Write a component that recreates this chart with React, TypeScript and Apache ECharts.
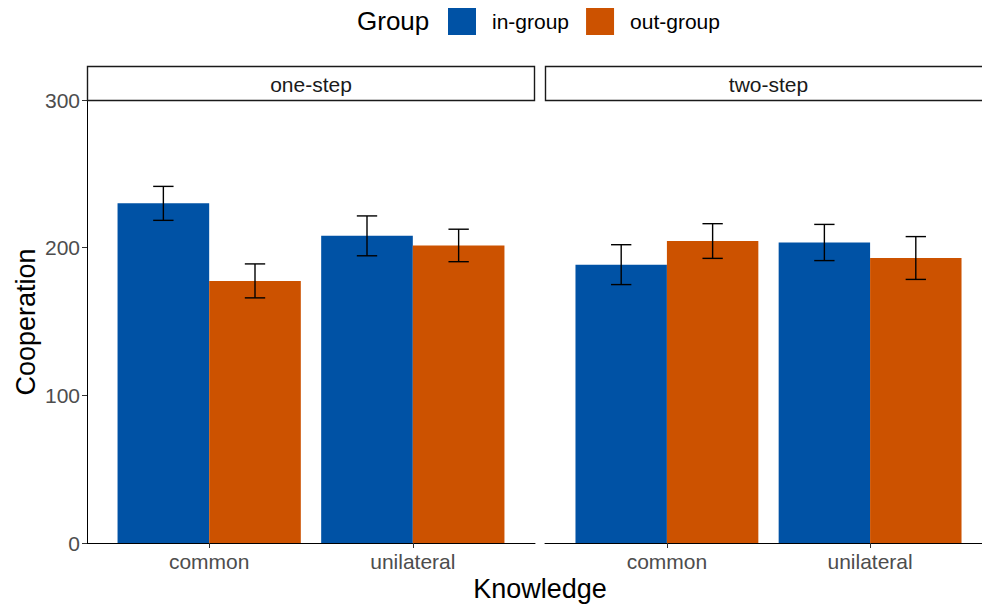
import React, { useEffect, useRef } from "react";
import * as echarts from "echarts";

const knowledge = ["common", "unilateral"];
const steps = ["one-step", "two-step"];
const groups = ["in-group", "out-group"];
const groupColors = ["#0052A5", "#CC5200"];

// means per knowledge level
const oneStepIn = [230, 208];
const oneStepOut = [177.5, 201.5];
const twoStepIn = [188.5, 203.5];
const twoStepOut = [204.5, 193];
// error bar half-widths
const oneStepInErr = [11.5, 13.5];
const oneStepOutErr = [11.5, 11];
const twoStepInErr = [13.5, 12.25];
const twoStepOutErr = [11.75, 14.5];

const yTicks = [0, 100, 200, 300];

const FONT = "Liberation Sans, Arial, sans-serif";

export default function App() {
  const ref = useRef<HTMLDivElement>(null);

  useEffect(() => {
    if (!ref.current) return;
    const chart = echarts.init(ref.current, null, { renderer: "svg" });

    const barHalf = 0.225;
    const capHalf = 0.05;

    const makeSeries = (
      name: string,
      gi: number,
      panel: number,
      means: number[],
      errs: number[]
    ) => ({
      type: "custom",
      name,
      xAxisIndex: panel,
      yAxisIndex: panel,
      itemStyle: { color: groupColors[gi] },
      encode: { x: 0, y: 1 },
      data: means.map((m, i) => [i + 1, m, m - errs[i], m + errs[i]]),
      renderItem: (params: any, api: any) => {
        const off = gi === 0 ? -barHalf : barHalf;
        const xc = api.value(0) + off;
        const mean = api.value(1);
        const lo = api.value(2);
        const hi = api.value(3);
        const tl = api.coord([xc - barHalf, mean]);
        const br = api.coord([xc + barHalf, 0]);
        const pLo = api.coord([xc, lo]);
        const pHi = api.coord([xc, hi]);
        const cl = api.coord([xc - capHalf, hi]);
        const cr = api.coord([xc + capHalf, hi]);
        const dl = api.coord([xc - capHalf, lo]);
        const dr = api.coord([xc + capHalf, lo]);
        const ls = { stroke: "#000", lineWidth: 1.4 };
        return {
          type: "group",
          children: [
            {
              type: "rect",
              shape: { x: tl[0], y: tl[1], width: br[0] - tl[0], height: br[1] - tl[1] },
              style: { fill: groupColors[gi] },
            },
            { type: "line", shape: { x1: pLo[0], y1: pLo[1], x2: pHi[0], y2: pHi[1] }, style: ls },
            { type: "line", shape: { x1: cl[0], y1: cl[1], x2: cr[0], y2: cr[1] }, style: ls },
            { type: "line", shape: { x1: dl[0], y1: dl[1], x2: dr[0], y2: dr[1] }, style: ls },
          ],
        };
      },
    });

    const xAxisBase = (gridIndex: number) => ({
      type: "value",
      gridIndex,
      min: 0.4,
      max: 2.6,
      splitLine: { show: false },
      axisLine: { show: true, lineStyle: { color: "#000", width: 1 } },
      axisTick: {
        show: true,
        length: 5,
        lineStyle: { color: "#333" },
        customValues: [1, 2],
      },
      axisLabel: {
        customValues: [1, 2],
        formatter: (v: number) => knowledge[Math.round(v) - 1] ?? "",
        color: "#4D4D4D",
        fontSize: 21,
        fontFamily: FONT,
        margin: 8,
      },
    });

    const stripTop = 66;
    const stripH = 34;
    const panels = [
      { left: 87, width: 448 },
      { left: 545, width: 447 },
    ];

    const option: any = {
      animation: false,
      backgroundColor: "#fff",
      textStyle: { fontFamily: FONT },
      legend: {
        data: groups.map((g) => ({ name: g, icon: "rect" })),
        left: 448,
        top: 8,
        padding: 0,
        itemWidth: 28,
        itemHeight: 27,
        itemGap: 17,
        selectedMode: false,
        textStyle: {
          fontSize: 21,
          color: "#000",
          fontFamily: FONT,
          padding: [0, 0, 0, 11],
        },
      },
      grid: panels.map((p) => ({
        left: p.left,
        top: 100,
        width: p.width,
        height: 443,
        outerBoundsMode: "none",
        containLabel: false,
      })),
      xAxis: [xAxisBase(0), xAxisBase(1)],
      yAxis: [0, 1].map((gi) => ({
        type: "value",
        gridIndex: gi,
        min: yTicks[0],
        max: yTicks[yTicks.length - 1],
        interval: 100,
        show: gi === 0,
        splitLine: { show: false },
        axisLine: { show: true, lineStyle: { color: "#000", width: 1 } },
        axisTick: { show: true, length: 5, lineStyle: { color: "#333" } },
        axisLabel: {
          color: "#4D4D4D",
          fontSize: 21,
          fontFamily: FONT,
          margin: 7,
        },
      })),
      series: [
        makeSeries(groups[0], 0, 0, oneStepIn, oneStepInErr),
        makeSeries(groups[1], 1, 0, oneStepOut, oneStepOutErr),
        makeSeries(groups[0], 0, 1, twoStepIn, twoStepInErr),
        makeSeries(groups[1], 1, 1, twoStepOut, twoStepOutErr),
      ],
      graphic: [
        {
          type: "text",
          left: 357,
          top: 8,
          style: { text: "Group", fontSize: 26, fill: "#000", fontFamily: FONT },
        },
        ...panels.flatMap((p, i) => [
          {
            type: "rect",
            shape: { x: p.left + 0.5, y: stripTop + 0.5, width: p.width - 1, height: stripH },
            style: { fill: "#fff", stroke: "#1A1A1A", lineWidth: 1.4 },
            z: 10,
          },
          {
            type: "text",
            x: p.left + p.width / 2,
            y: stripTop + stripH / 2 + 1,
            style: {
              text: steps[i],
              fontSize: 21,
              fill: "#1A1A1A",
              fontFamily: FONT,
              textAlign: "center",
              textVerticalAlign: "middle",
            },
            z: 11,
          },
        ]),
        {
          type: "text",
          x: 540,
          y: 589,
          style: {
            text: "Knowledge",
            fontSize: 27,
            fill: "#000",
            fontFamily: FONT,
            textAlign: "center",
            textVerticalAlign: "middle",
          },
        },
        {
          type: "text",
          x: 26,
          y: 322,
          rotation: Math.PI / 2,
          style: {
            text: "Cooperation",
            fontSize: 27,
            fill: "#000",
            fontFamily: FONT,
            textAlign: "center",
            textVerticalAlign: "middle",
          },
        },
      ],
    };

    chart.setOption(option);
    return () => chart.dispose();
  }, []);

  return (
    <div
      ref={ref}
      style={{ position: "fixed", left: 0, top: 0, width: 982, height: 607 }}
    />
  );
}
